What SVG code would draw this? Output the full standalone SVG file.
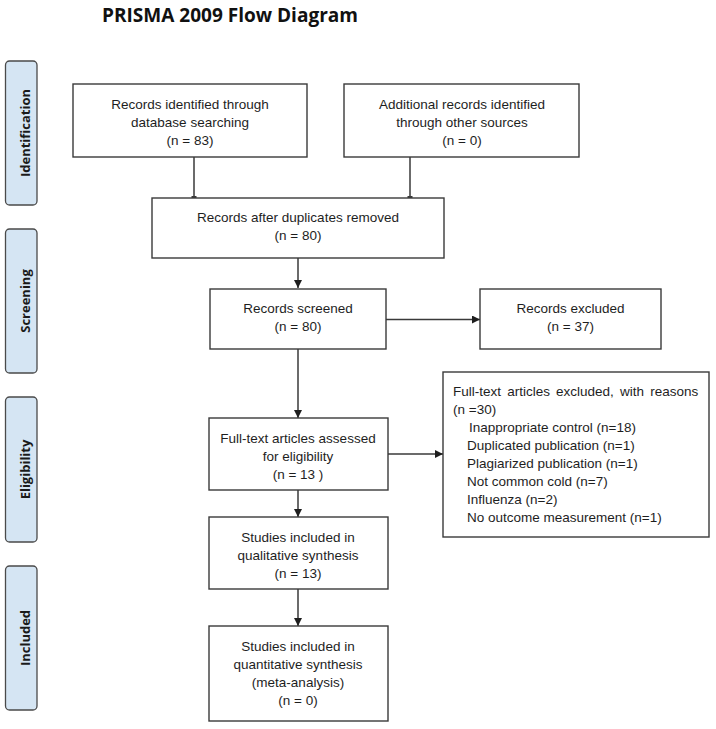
<svg xmlns="http://www.w3.org/2000/svg" width="716" height="729" viewBox="0 0 716 729">
<defs>
<style>
.box{fill:#fff;stroke:#3a3a3a;stroke-width:1.4}
.side{fill:#d5e5f3;stroke:#4a4a4a;stroke-width:1.3}
.t{font-family:"Liberation Sans",Arial,sans-serif;font-size:13.5px;fill:#1e1e1e;text-anchor:middle}
.tl{font-family:"Liberation Sans",Arial,sans-serif;font-size:13.5px;fill:#1e1e1e}
.st{font-family:"Open Sans","DejaVu Sans",sans-serif;font-weight:bold;font-size:13px;fill:#1a1a1a;text-anchor:middle}
.title{font-family:"Open Sans","DejaVu Sans",sans-serif;font-weight:bold;font-size:19px;fill:#111}
.ln{fill:none;stroke:#3a3a3a;stroke-width:1.5}
</style>
<marker id="arr" viewBox="0 0 10 10" refX="10" refY="5" markerWidth="8" markerHeight="8" markerUnits="userSpaceOnUse" orient="auto">
<path d="M0,0 L10,5 L0,10 z" fill="#1e1e1e"/>
</marker>
<marker id="tick" viewBox="0 0 4 10" refX="2" refY="5" markerWidth="2" markerHeight="7" markerUnits="userSpaceOnUse" orient="auto">
<rect x="0" y="0" width="4" height="10" fill="#3a3a3a"/>
</marker>
</defs>
<rect width="716" height="729" fill="#fff"/>
<text class="title" x="102" y="22" textLength="256" lengthAdjust="spacingAndGlyphs">PRISMA 2009 Flow Diagram</text>

<g id="side-identification"><rect class="side" x="5.5" y="61" width="31.5" height="144" rx="4"/><text class="st" transform="translate(29.5,133) rotate(-90)">Identification</text></g>
<g id="side-screening"><rect class="side" x="5.5" y="229" width="31.5" height="144" rx="4"/><text class="st" transform="translate(29.5,301) rotate(-90)">Screening</text></g>
<g id="side-eligibility"><rect class="side" x="5.5" y="397" width="31.5" height="145" rx="4"/><text class="st" transform="translate(29.5,469.5) rotate(-90)">Eligibility</text></g>
<g id="side-included"><rect class="side" x="5.5" y="566" width="31.5" height="144" rx="4"/><text class="st" transform="translate(29.5,638) rotate(-90)">Included</text></g>

<g id="connectors">
<path class="ln" d="M194,157 V197" marker-end="url(#tick)"/>
<path class="ln" d="M410,157 V197" marker-end="url(#tick)"/>
<path class="ln" d="M298,258 V288" marker-end="url(#arr)"/>
<path class="ln" d="M386,319.5 H480" marker-end="url(#arr)"/>
<path class="ln" d="M298,349 V418" marker-end="url(#arr)"/>
<path class="ln" d="M388,454 H443" marker-end="url(#arr)"/>
<path class="ln" d="M298,490 V517" marker-end="url(#arr)"/>
<path class="ln" d="M298,589 V626" marker-end="url(#arr)"/>
</g>

<g id="n-db"><rect class="box" x="73" y="84" width="234" height="73"/>
<text class="t" x="190" y="109">Records identified through</text><text class="t" x="190" y="127">database searching</text><text class="t" x="190" y="145">(n = 83)</text></g>

<g id="n-other"><rect class="box" x="344" y="84" width="235" height="73"/>
<text class="t" x="462" y="109">Additional records identified</text><text class="t" x="462" y="127">through other sources</text><text class="t" x="462" y="145">(n = 0)</text></g>

<g id="n-dup"><rect class="box" x="152" y="198" width="292" height="60"/>
<text class="t" x="298" y="222">Records after duplicates removed</text><text class="t" x="298" y="240">(n = 80)</text></g>

<g id="n-screened"><rect class="box" x="210" y="289" width="176" height="60"/>
<text class="t" x="298" y="313">Records screened</text><text class="t" x="298" y="331">(n = 80)</text></g>

<g id="n-excluded"><rect class="box" x="480" y="289" width="181" height="60"/>
<text class="t" x="570.5" y="313">Records excluded</text><text class="t" x="570.5" y="331">(n = 37)</text></g>

<g id="n-fulltext-excluded"><rect class="box" x="443" y="372" width="266" height="165"/>
<text class="tl" x="453" y="396" word-spacing="2.4">Full-text articles excluded, with reasons</text>
<text class="tl" x="453" y="414">(n =30)</text>
<text class="tl" x="469" y="432">Inappropriate control (n=18)</text>
<text class="tl" x="467" y="450">Duplicated publication (n=1)</text>
<text class="tl" x="467" y="468">Plagiarized publication (n=1)</text>
<text class="tl" x="467" y="486">Not common cold (n=7)</text>
<text class="tl" x="467" y="504">Influenza (n=2)</text>
<text class="tl" x="467" y="522">No outcome measurement (n=1)</text></g>

<g id="n-assessed"><rect class="box" x="209" y="418" width="179" height="72"/>
<text class="t" x="298" y="443">Full-text articles assessed</text><text class="t" x="298" y="461">for eligibility</text><text class="t" x="298" y="479">(n = 13 )</text></g>

<g id="n-qualitative"><rect class="box" x="209" y="517" width="179" height="72"/>
<text class="t" x="298" y="542">Studies included in</text><text class="t" x="298" y="560">qualitative synthesis</text><text class="t" x="298" y="578">(n = 13)</text></g>

<g id="n-quantitative"><rect class="box" x="209" y="626" width="179" height="95"/>
<text class="t" x="298" y="651">Studies included in</text><text class="t" x="298" y="669">quantitative synthesis</text><text class="t" x="298" y="687">(meta-analysis)</text><text class="t" x="298" y="705">(n = 0)</text></g>
</svg>
